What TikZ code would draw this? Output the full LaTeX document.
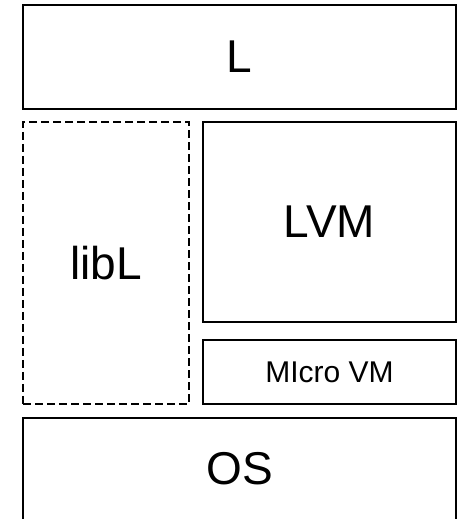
\documentclass[tikz,border=0pt]{standalone}
\usepackage{fontspec}
\setmainfont{Liberation Sans}
\begin{document}
\begin{tikzpicture}[x=1pt,y=1pt,
    layer/.style={draw,line width=1.2pt,rectangle,inner sep=0pt,font=\fontsize{46}{50}\selectfont},
    small/.style={font=\fontsize{30}{34}\selectfont}]
      \useasboundingbox (0,0) rectangle (457,519);
      %
      \node[layer,minimum width=433,minimum height=104] (lang) at (239.5,462) {L};
      \node[layer,dash pattern=on 8pt off 4pt,minimum width=166,minimum height=282] (lib) at (106,256) {libL};
      \node[layer,minimum width=253,minimum height=200] (lvm) at (329.5,297) {LVM};
      \node[layer,small,minimum width=253,minimum height=64] (micro) at (329.5,147) {MIcro VM};
      \node[layer,minimum width=433,minimum height=102] (os) at (239.5,50) {OS};
    \end{tikzpicture}
\end{document}
